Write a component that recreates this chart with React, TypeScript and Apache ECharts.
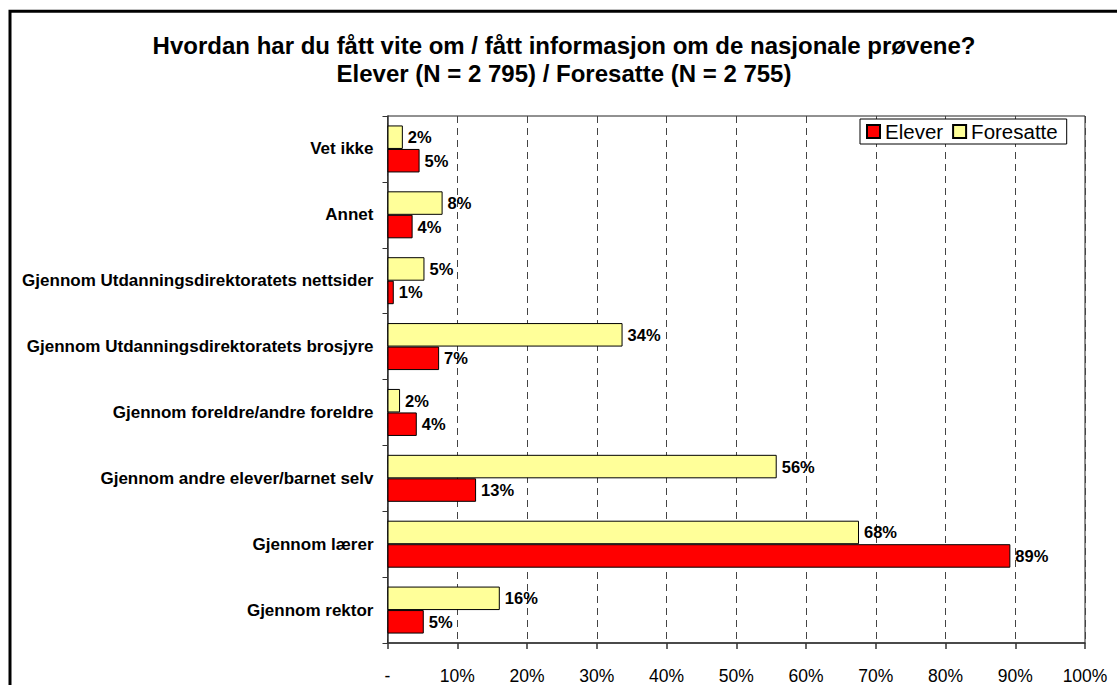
import React, { useEffect, useRef } from "react";
import * as echarts from "echarts";

const titleLines = [
  "Hvordan har du fått vite om / fått informasjon om de nasjonale prøvene?",
  "Elever (N = 2 795) / Foresatte (N = 2 755)",
];

const categories = [
  "Vet ikke",
  "Annet",
  "Gjennom Utdanningsdirektoratets nettsider",
  "Gjennom Utdanningsdirektoratets brosjyre",
  "Gjennom foreldre/andre foreldre",
  "Gjennom andre elever/barnet selv",
  "Gjennom lærer",
  "Gjennom rektor",
];

const elever = [4.6, 3.6, 0.9, 7.4, 4.2, 12.7, 89.3, 5.2];
const foresatte = [2.2, 7.9, 5.3, 33.7, 1.8, 55.8, 67.6, 16.1];

const seriesNames = ["Elever", "Foresatte"];

const FONT = "'Liberation Sans', Arial, Helvetica, sans-serif";

export default function App() {
  const ref = useRef<HTMLDivElement>(null);

  useEffect(() => {
    if (!ref.current) return;
    const chart = echarts.init(ref.current, undefined, { renderer: "svg" });
    const labelStyle = {
      show: true,
      position: "right" as const,
      distance: 5,
      fontFamily: FONT,
      fontWeight: "bold" as const,
      fontSize: 16.5,
      color: "#000",
      formatter: (p: any) => Math.round(p.value) + "%",
    };
    chart.setOption({
      animation: false,
      backgroundColor: "#fff",
      textStyle: { fontFamily: FONT },
      graphic: [
        {
          type: "rect",
          shape: { x: 10, y: 11.3, width: 1300, height: 900 },
          style: { fill: "none", stroke: "#000", lineWidth: 3 },
          silent: true,
          z: 100,
        },
        {
          type: "text",
          x: 564,
          y: 45,
          style: {
            text: titleLines[0],
            fontFamily: FONT,
            fontWeight: "bold",
            fontSize: 24,
            fill: "#000",
            align: "center",
            verticalAlign: "middle",
          },
        },
        {
          type: "text",
          x: 564,
          y: 73,
          style: {
            text: titleLines[1],
            fontFamily: FONT,
            fontWeight: "bold",
            fontSize: 24,
            fill: "#000",
            align: "center",
            verticalAlign: "middle",
          },
        },
      ],
      legend: {
        data: seriesNames,
        left: 860,
        top: 119,
        orient: "horizontal",
        backgroundColor: "#fff",
        borderColor: "#000",
        borderWidth: 1,
        borderRadius: 0,
        padding: [2, 9, 2, 6],
        itemGap: 9,
        itemWidth: 13,
        itemHeight: 13,
        icon: "rect",
        textStyle: { fontFamily: FONT, fontSize: 20.5, color: "#000" },
        z: 10,
      },
      grid: {
        left: 387.5,
        right: 32,
        top: 116,
        bottom: 42,
        show: true,
        borderColor: "#222",
        borderWidth: 1,
        backgroundColor: "transparent",
      },
      xAxis: {
        type: "value",
        min: 0,
        max: 100,
        interval: 10,
        axisLine: { show: true, lineStyle: { color: "#333", width: 1.5 } },
        axisTick: { show: true, length: 6, lineStyle: { color: "#333", width: 1.5 } },
        axisLabel: {
          margin: 24,
          fontFamily: FONT,
          fontSize: 17.5,
          color: "#000",
          formatter: (v: number) => (v === 0 ? "-" : v + "%"),
        },
        splitLine: {
          show: true,
          lineStyle: { color: "#444", width: 1, type: [7, 5] },
        },
      },
      yAxis: {
        type: "category",
        data: categories,
        inverse: true,
        axisLine: { show: true, lineStyle: { color: "#333", width: 1.5 } },
        axisTick: { show: true, length: 5, lineStyle: { color: "#333" } },
        axisLabel: {
          margin: 14,
          fontFamily: FONT,
          fontWeight: "bold",
          fontSize: 17,
          color: "#000",
        },
        splitLine: { show: false },
      },
      series: [
        {
          name: "Foresatte",
          type: "bar",
          data: foresatte,
          barWidth: 23.5,
          barGap: "0%",
          itemStyle: { color: "#FFFF99", borderColor: "#000", borderWidth: 1 },
          label: labelStyle,
        },
        {
          name: "Elever",
          type: "bar",
          data: elever,
          barWidth: 23.5,
          barGap: "0%",
          itemStyle: { color: "#FF0000", borderColor: "#000", borderWidth: 1 },
          label: labelStyle,
        },
      ],
    });
    return () => chart.dispose();
  }, []);

  return (
    <div
      ref={ref}
      style={{ position: "fixed", left: 0, top: 0, width: 1117, height: 685 }}
    />
  );
}
